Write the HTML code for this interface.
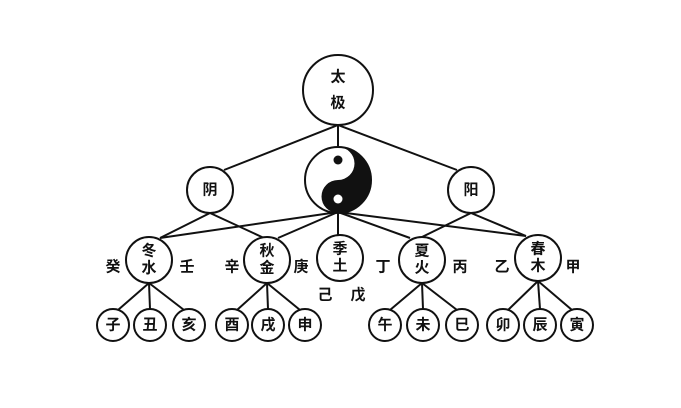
<!DOCTYPE html>
<html><head><meta charset="utf-8"><style>
body{margin:0;background:#fff;}
text{font-family:"Liberation Sans","Noto Sans CJK SC",sans-serif;font-size:15px;font-weight:bold;fill:#111;text-anchor:middle;dominant-baseline:central;}
</style></head><body>
<svg width="681" height="403" viewBox="0 0 681 403" xmlns="http://www.w3.org/2000/svg">
<g stroke="#111" stroke-width="2" fill="none">
<line x1="338" y1="125" x2="224" y2="170"/>
<line x1="338" y1="125" x2="457" y2="170"/>
<line x1="338" y1="125" x2="338" y2="147"/>
<line x1="338" y1="212" x2="160" y2="238"/>
<line x1="338" y1="212" x2="278" y2="238"/>
<line x1="338" y1="212" x2="338" y2="235"/>
<line x1="338" y1="212" x2="410" y2="238"/>
<line x1="338" y1="212" x2="526" y2="236"/>
<line x1="210" y1="213" x2="160" y2="238"/>
<line x1="210" y1="213" x2="264" y2="238"/>
<line x1="471" y1="213" x2="422" y2="237"/>
<line x1="471" y1="213" x2="526" y2="236"/>
<line x1="149" y1="283" x2="118" y2="310"/><line x1="149" y1="283" x2="150" y2="309"/><line x1="149" y1="283" x2="184" y2="310"/>
<line x1="267" y1="283" x2="237" y2="310"/><line x1="267" y1="283" x2="268" y2="309"/><line x1="267" y1="283" x2="300" y2="310"/>
<line x1="422" y1="283" x2="390" y2="310"/><line x1="422" y1="283" x2="423" y2="309"/><line x1="422" y1="283" x2="457" y2="310"/>
<line x1="538" y1="281" x2="508" y2="310"/><line x1="538" y1="281" x2="540" y2="309"/><line x1="538" y1="281" x2="572" y2="310"/>
</g>
<g stroke="#111" stroke-width="2" fill="#fff">
<circle cx="338" cy="90" r="35"/>
<circle cx="210" cy="190" r="23"/>
<circle cx="471" cy="190" r="23"/>
<circle cx="149" cy="260" r="23"/>
<circle cx="267" cy="260" r="23"/>
<circle cx="340" cy="258" r="23"/>
<circle cx="422" cy="260" r="23"/>
<circle cx="538" cy="258" r="23"/>
<circle cx="113" cy="325" r="16"/><circle cx="150" cy="325" r="16"/><circle cx="189" cy="325" r="16"/>
<circle cx="232" cy="325" r="16"/><circle cx="268" cy="325" r="16"/><circle cx="305" cy="325" r="16"/>
<circle cx="385" cy="325" r="16"/><circle cx="423" cy="325" r="16"/><circle cx="462" cy="325" r="16"/>
<circle cx="503" cy="325" r="16"/><circle cx="540" cy="325" r="16"/><circle cx="577" cy="325" r="16"/>
<circle cx="338" cy="180" r="33"/>
</g>
<path d="M338,147 A33,33 0 0,1 338,213 A16.5,16.5 0 0,1 338,180 A16.5,16.5 0 0,0 338,147 Z" fill="#111"/>
<circle cx="338" cy="160" r="4.5" fill="#111"/>
<circle cx="338" cy="199" r="4.5" fill="#fff"/>
<text x="338" y="77">太</text><text x="338" y="103">极</text>
<text x="210" y="190">阴</text><text x="471" y="190">阳</text>
<text x="149" y="251">冬</text><text x="149" y="268">水</text>
<text x="267" y="251">秋</text><text x="267" y="268">金</text>
<text x="340" y="249">季</text><text x="340" y="266">土</text>
<text x="422" y="251">夏</text><text x="422" y="268">火</text>
<text x="538" y="249">春</text><text x="538" y="266">木</text>
<text x="113" y="267">癸</text><text x="187" y="267">壬</text>
<text x="232" y="267">辛</text><text x="301" y="267">庚</text>
<text x="383" y="267">丁</text><text x="460" y="267">丙</text>
<text x="502" y="267">乙</text><text x="573" y="267">甲</text>
<text x="325" y="295">己</text><text x="358" y="295">戊</text>
<text x="113" y="325">子</text><text x="150" y="325">丑</text><text x="189" y="325">亥</text>
<text x="232" y="325">酉</text><text x="268" y="325">戌</text><text x="305" y="325">申</text>
<text x="385" y="325">午</text><text x="423" y="325">未</text><text x="462" y="325">巳</text>
<text x="503" y="325">卯</text><text x="540" y="325">辰</text><text x="577" y="325">寅</text>
</svg>
</body></html>
